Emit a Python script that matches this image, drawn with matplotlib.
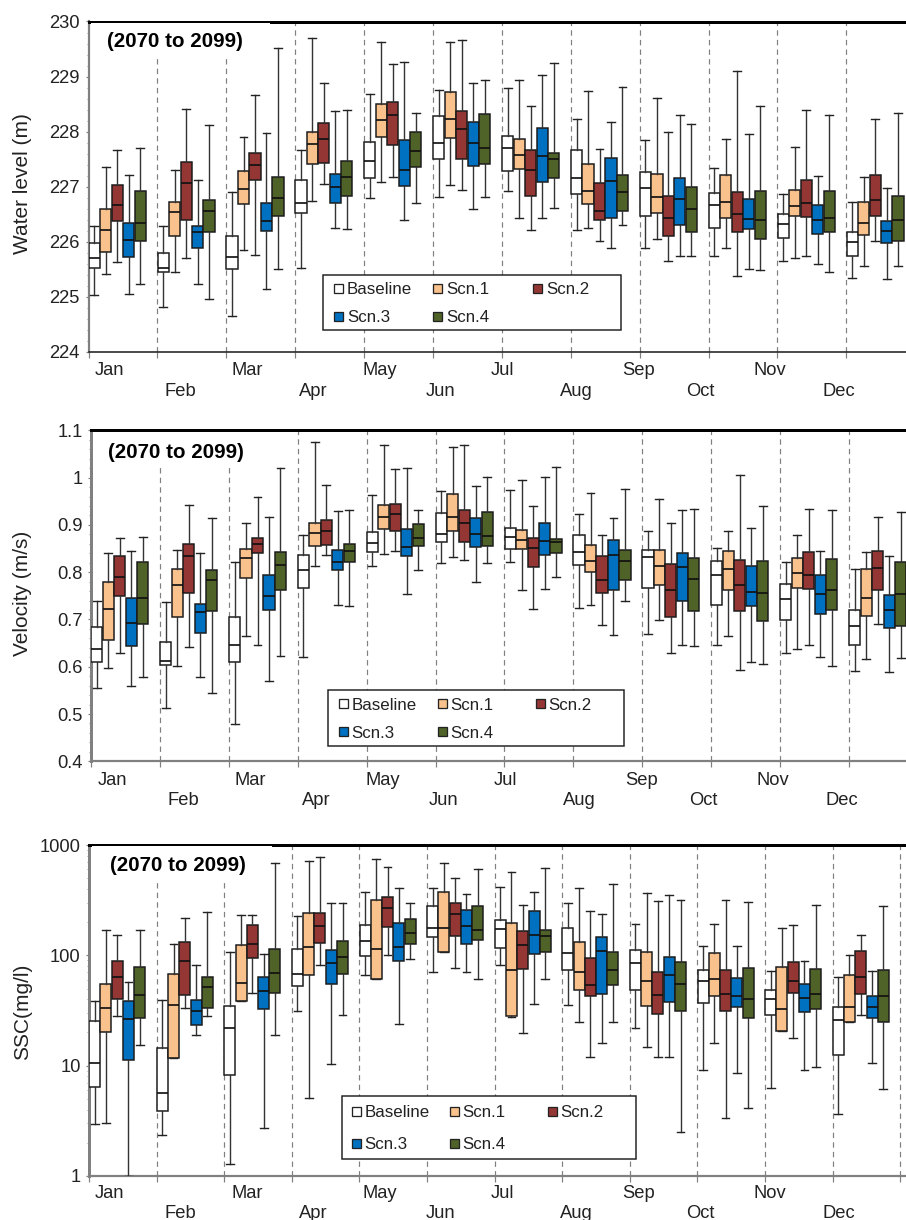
import matplotlib
matplotlib.use("Agg")
import matplotlib.pyplot as plt
from matplotlib.patches import Rectangle
from matplotlib.ticker import FixedLocator, NullFormatter, FixedFormatter

plt.rcParams['font.family'] = ['Liberation Sans', 'DejaVu Sans']

MONTHS = ['Jan','Feb','Mar','Apr','May','Jun','Jul','Aug','Sep','Oct','Nov','Dec']
SCENARIOS = ['Baseline','Scn.1','Scn.2','Scn.3','Scn.4']
COLORS = ['#FFFFFF','#F9C18C','#943634','#0070C0','#4F6228']

# every row: whisker high, q3, median, q1, whisker low (Jan..Dec)
WL_BASE = [[226.29,225.97,225.71,225.52,225.04],[226.28,225.79,225.52,225.46,224.81],[226.91,226.11,225.72,225.50,224.65],
           [227.67,227.13,226.71,226.53,225.52],[228.69,227.82,227.46,227.15,226.79],[228.76,228.29,227.79,227.51,226.81],
           [228.80,227.93,227.71,227.28,226.92],[228.23,227.67,227.16,226.86,226.22],[227.84,227.26,226.98,226.47,225.89],
           [227.34,226.89,226.66,226.25,225.75],[226.86,226.50,226.32,226.07,225.65],[226.73,226.18,226.00,225.75,225.34]]
WL_S1 = [[227.35,226.60,226.21,225.81,225.41],[227.30,226.73,226.55,226.10,225.45],[227.91,227.29,226.96,226.69,225.86],
         [229.70,227.99,227.77,227.42,226.74],[229.63,228.50,228.21,227.90,227.09],[229.63,228.72,228.23,227.88,227.04],
         [228.93,227.86,227.58,227.32,226.44],[228.74,227.41,226.93,226.69,226.26],[228.62,227.24,226.82,226.53,226.06],
         [227.87,227.22,226.73,226.44,225.88],[227.73,226.95,226.65,226.46,225.70],[227.18,226.73,226.34,226.12,225.56]]
WL_S2 = [[227.67,227.04,226.67,226.37,225.64],[228.42,227.45,227.06,226.40,225.71],[228.66,227.62,227.40,227.12,225.76],
         [228.88,228.16,227.87,227.44,227.05],[229.23,228.53,228.30,227.75,227.18],[229.66,228.38,228.05,227.51,226.95],
         [228.46,227.67,227.30,226.84,226.21],[227.68,227.07,226.56,226.40,226.01],[228.00,226.84,226.44,226.11,225.65],
         [229.11,226.90,226.50,226.17,225.38],[228.40,227.12,226.71,226.45,225.74],[228.23,227.22,226.76,226.46,226.02]]
WL_S3 = [[227.21,226.34,226.03,225.72,225.05],[227.13,226.28,226.17,225.89,225.23],[227.98,226.70,226.37,226.19,225.14],
         [228.37,227.24,227.00,226.70,226.25],[229.27,227.85,227.30,227.02,226.39],[228.88,228.18,227.79,227.38,226.59],
         [229.03,228.07,227.55,227.08,226.44],[228.17,227.52,227.11,226.44,225.89],[228.30,227.15,226.78,226.30,225.75],
         [227.95,226.78,226.42,226.24,225.51],[227.20,226.66,226.39,226.14,225.60],[226.98,226.38,226.19,225.97,225.33]]
WL_S4 = [[227.70,226.93,226.35,226.01,225.23],[228.13,226.76,226.56,226.17,224.96],[229.51,227.18,226.79,226.46,225.51],
         [228.40,227.47,227.18,226.84,226.24],[228.33,227.99,227.64,227.36,226.70],[228.94,228.32,227.70,227.42,226.81],
         [229.24,227.62,227.51,227.15,226.62],[228.81,227.21,226.90,226.56,226.31],[228.14,226.99,226.60,226.17,225.74],
         [228.47,226.93,226.40,226.06,225.48],[228.31,226.92,226.43,226.18,225.45],[228.33,226.84,226.39,226.01,225.57]]

VEL_BASE = [[.738,.683,.638,.611,.556],[.736,.652,.612,.604,.513],[.822,.706,.646,.610,.478],[.879,.837,.805,.767,.620],
            [.963,.885,.861,.843,.814],[.972,.926,.881,.863,.819],[.974,.893,.874,.849,.822],[.924,.879,.842,.816,.724],
            [.886,.847,.831,.767,.669],[.851,.824,.795,.731,.645],[.822,.774,.743,.699,.630],[.807,.719,.686,.646,.590]]
VEL_S1 = [[.841,.780,.723,.657,.597],[.846,.807,.773,.705,.602],[.903,.850,.830,.788,.666],[1.075,.904,.883,.856,.812],
          [1.068,.943,.917,.891,.838],[1.065,.965,.917,.888,.831],[.994,.890,.869,.850,.762],[.967,.857,.824,.800,.731],
          [.955,.846,.812,.773,.698],[.888,.845,.807,.762,.666],[.879,.829,.798,.766,.637],[.843,.807,.745,.708,.616]]
VEL_S2 = [[.872,.835,.789,.750,.628],[.943,.860,.834,.756,.642],[.958,.872,.859,.841,.647],[.984,.910,.886,.857,.837],
          [1.018,.945,.924,.886,.844],[1.068,.931,.903,.863,.825],[.939,.873,.851,.811,.722],[.879,.834,.783,.755,.689],
          [.905,.818,.762,.705,.630],[1.006,.825,.773,.718,.594],[.934,.842,.795,.765,.645],[.917,.845,.808,.762,.690]]
VEL_S3 = [[.844,.745,.693,.643,.559],[.841,.733,.716,.671,.578],[.916,.795,.750,.721,.569],[.929,.846,.821,.804,.731],
          [1.021,.892,.853,.835,.753],[.983,.914,.881,.853,.780],[1.002,.904,.865,.836,.764],[.914,.867,.836,.762,.668],
          [.931,.841,.810,.740,.645],[.894,.814,.759,.728,.609],[.844,.793,.754,.712,.621],[.834,.752,.719,.681,.588]]
VEL_S4 = [[.874,.822,.746,.690,.578],[.915,.805,.783,.717,.545],[1.020,.842,.816,.763,.622],[.932,.860,.845,.822,.729],
          [.932,.901,.872,.855,.804],[1.001,.927,.877,.856,.819],[1.022,.870,.864,.840,.789],[.975,.847,.824,.783,.740],
          [.933,.829,.786,.717,.644],[.940,.824,.755,.697,.605],[.932,.828,.762,.719,.602],[.927,.821,.753,.687,.619]]

SSC_BASE = [[38.6,25.2,10.6,6.4,2.96],[39,14.6,5.6,3.9,2.35],[108,35,21.8,8.3,1.28],[226,113,68,52.7,31.3],
            [375,187,136,98.6,66],[408,282,178,147,71],[416,210,175,116,82],[296,178,106,74,35.5],
            [194,111,85,49,22],[121,74,58,36.7,9.1],[72,49,40,29,6.3],[63,33.8,26,12.4,3.65]]
SSC_S1 = [[170,55.4,33.3,20,3.0],[128,68,35.7,11.8,11.7],[232,124,56,38.8,38.6],[721,240,118,66,5.1],
          [746,320,115,61.5,61],[682,378,177,108,107],[565,198,73,28,27.8],[410,131,70,49,24.9],
          [370,108,58,34.5,14.7],[194,106,60.6,42.5,16],[178,79,32.4,20.7,20.5],[100.7,66,34,24.9,24.7]]
SSC_S2 = [[153,88,64,40.5,28],[218,133,89,43.7,33],[232,187,126,94.6,45.6],[784,242,184,130,82],
          [636,340,269,179,101],[506,300,235,151,77],[284,167,123,75,19.6],[250,94,54,43,12],
          [311,71,44,29.4,11.9],[317,73,44.6,31.3,3.36],[190,86.5,59,46,18],[154,109,63,44.6,28.8]]
SSC_S3 = [[57.7,38.8,26.3,11.3,1.0],[81,39,31,23.2,18.8],[102,63,47.5,32.9,2.74],[296,112,85,55,10.4],
          [408,198,120,88,23.9],[362,259,183,126,70],[372,252,152,102,36],[239,147,110,45,16],
          [352,96,66,38,12],[122,62,43,33.8,8.5],[88,55,41,30.6,9.1],[72,43,33.8,26.9,10.6]]
SSC_S4 = [[170,79,44,26.9,15.3],[247,64,51.6,33,28.2],[687,114,69,45.3,19.1],[298,135,96,68,29],
          [300,213,160,126,93],[602,282,170,137,61],[614,169,149,107,61],[443,108,73,53.5,25],
          [315,86.5,55,31,2.5],[304,76,40.5,27,4.1],[288,75,45,32.6,9.7],[280,73,43,25,6.2]]

W, H = 906, 1220
fig = plt.figure(figsize=(W/100, H/100), dpi=100)
PT = 0.72  # points per pixel

def fx(x): return x / W
def fy(y): return 1 - y / H

# month-label pixel centres, panel-independent apart from a shift
LABEL_X = [109, 180, 247, 313, 380, 441, 502, 576, 639, 700, 770, 839]

def legend(box, rows, cols, text_dx):
    x0, x1, y0, y1 = box
    fig.add_artist(Rectangle((fx(x0), fy(y1)), (x1-x0)/W, (y1-y0)/H, transform=fig.transFigure,
                             fc='white', ec='#222222', lw=1.5*PT, zorder=5))
    layout = [(0, 0), (0, 1), (0, 2), (1, 0), (1, 1)]
    for i, (r, c) in enumerate(layout):
        xs, ys = cols[c], rows[r]
        fig.add_artist(Rectangle((fx(xs), fy(ys+4.5)), 9/W, 9/H, transform=fig.transFigure,
                                 fc=COLORS[i], ec='#222222', lw=1.3*PT, zorder=6))
        fig.text(fx(xs+text_dx), fy(ys+1.5), SCENARIOS[i], fontsize=12.2, va='center', ha='left',
                 color='#222222', zorder=6)

def panel(series, box, month_px, ylim, ylabel, yl_x, majors, maj_labels, minors, log, lab_tick_x,
          label_shift, row_y, mask, spine_c, spine_w, bottom_c, bottom_w, title_xy, legend_args):
    left, top, bottom = box
    ax = fig.add_axes([fx(left), fy(bottom), (W-left)/W, (bottom-top)/H])
    xmax = (W-left)/month_px
    for k, rows in enumerate(series):
        pos = [m + 1/12 + k/6 for m in range(12)]
        stats = [dict(whishi=r[0], q3=r[1], med=r[2], q1=r[3], whislo=r[4], fliers=[]) for r in rows]
        ax.bxp(stats, positions=pos, widths=0.162, patch_artist=True, showfliers=False, manage_ticks=False,
               capwidths=0.115,
               boxprops=dict(facecolor=COLORS[k], edgecolor='#1a1a1a', linewidth=1.5*PT),
               medianprops=dict(color='#111111', linewidth=1.7*PT),
               whiskerprops=dict(color='#333333', linewidth=1.4*PT),
               capprops=dict(color='#222222', linewidth=1.4*PT), zorder=3)
    if log:
        ax.set_yscale('log')
    ax.set_xlim(0, xmax)
    ax.set_ylim(*ylim)
    for m in range(1, 13):
        if m < xmax:
            ax.axvline(m, color='#808080', lw=1.2*PT, ls=(0, (4.5, 3.5)), zorder=1)
    # white block behind the period title
    mx0, mx1, my0, my1 = mask
    fig_rect = Rectangle((fx(mx0), fy(my1)), (mx1-mx0)/W, (my1-my0)/H, transform=fig.transFigure,
                         fc='white', ec='none', zorder=2.6)
    ax.add_artist(fig_rect)
    ax.text(title_xy[0]/W, fy(title_xy[1]), '(2070 to 2099)', transform=fig.transFigure, fontsize=14.8,
            fontweight='bold', color='black', va='center', ha='left', zorder=4)
    ax.spines['right'].set_visible(False)
    ax.spines['top'].set_color('black'); ax.spines['top'].set_linewidth(3*PT)
    ax.spines['left'].set_color(spine_c); ax.spines['left'].set_linewidth(spine_w*PT)
    ax.spines['bottom'].set_color(bottom_c); ax.spines['bottom'].set_linewidth(bottom_w*PT)
    ax.xaxis.set_major_locator(FixedLocator([m for m in range(0, 13) if m < xmax]))
    ax.xaxis.set_major_formatter(NullFormatter())
    ax.xaxis.set_minor_locator(FixedLocator([]))
    ax.tick_params(axis='x', which='major', length=5.5*PT, width=1.2*PT, color='#808080')
    ax.yaxis.set_major_locator(FixedLocator(majors))
    ax.yaxis.set_major_formatter(FixedFormatter(maj_labels))
    ax.yaxis.set_minor_locator(FixedLocator(minors))
    ax.yaxis.set_minor_formatter(NullFormatter())
    ax.tick_params(axis='y', which='major', length=3.5*PT, width=1.2*PT, color='#808080',
                   labelsize=13.2, labelcolor='#222222', pad=5*PT)
    ax.tick_params(axis='y', which='minor', length=2.5*PT, width=1.0*PT, color='#999999')
    fig.text(fx(yl_x), fy((top+bottom)/2 + lab_tick_x), ylabel, rotation=90, fontsize=15.0,
             color='#222222', va='center', ha='center')
    for i, name in enumerate(MONTHS):
        fig.text(fx(LABEL_X[i] + label_shift), fy(row_y[i % 2] + 1.5), name, fontsize=13.2, color='#222222',
                 va='center', ha='center')
    legend(*legend_args)
    return ax

panel([WL_BASE, WL_S1, WL_S2, WL_S3, WL_S4], (88.5, 21.5, 352), 68.9, (224, 230), 'Water level (m)', 22.5,
      [224, 225, 226, 227, 228, 229, 230], ['224', '225', '226', '227', '228', '229', '230'],
      [224 + 0.2*i for i in range(31) if i % 5], False, -3, 0, (369, 390),
      (90.5, 270, 22.7, 57), '#808080', 2.2, '#222222', 1.6, (107, 41.5),
      ((323, 621, 274.5, 330), (288, 316), (334, 433, 533), 13))

panel([VEL_BASE, VEL_S1, VEL_S2, VEL_S3, VEL_S4], (91, 430.3, 761.3), 68.9, (0.4, 1.1), 'Velocity (m/s)', 22.5,
      [0.4, 0.5, 0.6, 0.7, 0.8, 0.9, 1.0, 1.1], ['0.4', '0.5', '0.6', '0.7', '0.8', '0.9', '1', '1.1'],
      [0.4 + 0.02*i for i in range(36) if i % 5], False, -2, 3, (779, 799),
      (93.5, 290, 432, 468), '#808080', 3, '#808080', 2.2, (107.5, 452.5),
      ((328, 624, 690, 746), (703.5, 731.5), (338.5, 437.5, 535.5), 13))

ssc_minor = [d*10**e for e in range(3) for d in range(2, 10)]
panel([SSC_BASE, SSC_S1, SSC_S2, SSC_S3, SSC_S4], (89, 845, 1176), 67.6, (1, 1000), 'SSC(mg/l)', 22.5,
      [1, 10, 100, 1000], ['1', '10', '100', '1000'], ssc_minor, True, 1, 0, (1192, 1212),
      (91.5, 272, 846, 880), '#808080', 3, '#808080', 2.2, (109.5, 865.5),
      ((341.5, 636, 1096, 1159), (1111, 1143), (352, 450, 548), 12.5))

fig.savefig('out.png', dpi=100)
